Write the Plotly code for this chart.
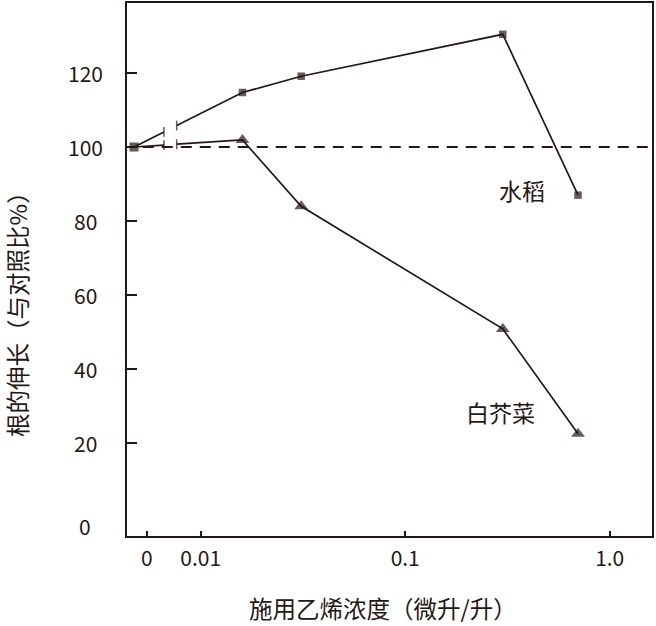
import numpy as np
import plotly.graph_objects as go

# ---- data ----
concentration = [0, 0.016, 0.031, 0.30, 0.70]          # 微升/升
rice = [100, 114.7, 119.1, 130.4, 87.0]                # 水稻
mustard = [100, 101.9, 84.0, 50.9, 22.6]               # 白芥菜
control_level = 100
x_tick_vals = [0, 0.01, 0.1, 1.0]
x_tick_text = ["0", "0.01", "0.1", "1.0"]
y_tick_vals = [0, 20, 40, 60, 80, 100, 120]

# ---- broken-axis helpers (the "0" group sits left of the break on the log axis) ----
ZERO_PLOT = 0.00472
ZERO_TICK = 0.00545
BREAK_L, BREAK_R = 0.00661, 0.00763

INK = "#231815"
FONT = "Noto Sans CJK SC"


def xpos(c, zero):
    return zero if c == 0 else c


def break_y(series):
    lz, l1 = np.log10(ZERO_PLOT), np.log10(concentration[1])
    out = []
    for b in (BREAK_L, BREAK_R):
        t = (np.log10(b) - lz) / (l1 - lz)
        out.append(series[0] + t * (series[1] - series[0]))
    return out


fig = go.Figure()

for name, series, sym, size, zero_marker in [
    ("水稻", rice, "square", 7.5, True),
    ("白芥菜", mustard, "triangle-up", 12, False),
]:
    yl, yr = break_y(series)
    # left part: zero point -> break
    fig.add_trace(go.Scatter(
        x=[xpos(concentration[0], ZERO_PLOT), BREAK_L],
        y=[series[0], yl],
        mode="lines+markers",
        line=dict(color=INK, width=1.7),
        marker=dict(symbol=["square", "line-ns"],
                    size=[7.5 if zero_marker else 0, 7],
                    color=INK, line=dict(color=INK, width=1.5)),
        showlegend=False, hoverinfo="skip", cliponaxis=False,
    ))
    # right part: break -> remaining points
    fig.add_trace(go.Scatter(
        x=[BREAK_R] + [xpos(c, ZERO_PLOT) for c in concentration[1:]],
        y=[yr] + series[1:],
        mode="lines+markers",
        line=dict(color=INK, width=1.7),
        marker=dict(symbol=["line-ns"] + [sym] * (len(series) - 1),
                    size=[7] + [size] * (len(series) - 1),
                    color=INK, line=dict(color=INK, width=[1.5] + [0] * (len(series) - 1))),
        name=name, showlegend=False, cliponaxis=False,
    ))

# control (100 %) dashed reference line
fig.add_shape(type="line", xref="paper", x0=0.03, x1=1, yref="y",
              y0=control_level, y1=control_level,
              line=dict(color=INK, width=1.8, dash="11px,8px"))

annotations = []
# y tick labels centred like the reference
for v in y_tick_vals:
    annotations.append(dict(
        xref="paper", x=0, xshift=-42, yref="y", y=v,
        yshift=-9 if v == 0 else 0,
        text=str(v), showarrow=False, xanchor="center", yanchor="middle",
        font=dict(family=FONT, size=21, color=INK)))

# series labels
annotations.append(dict(xref="x", x=-0.429, yref="y", y=88.3, text="水稻",
                        showarrow=False, font=dict(family=FONT, size=23, color=INK)))
annotations.append(dict(xref="x", x=-0.536, yref="y", y=28.4, text="白芥菜",
                        showarrow=False, font=dict(family=FONT, size=23, color=INK)))
# axis titles
annotations.append(dict(xref="paper", x=0, xshift=-110, yref="paper", y=0.426,
                        text="根的伸长（与对照比%）", textangle=-90, showarrow=False,
                        xanchor="center", yanchor="middle",
                        font=dict(family=FONT, size=23.5, color=INK)))
annotations.append(dict(xref="paper", x=0.4876, yref="paper", y=-0.136,
                        text="施用乙烯浓度（微升/升）", showarrow=False,
                        xanchor="center", yanchor="middle",
                        font=dict(family=FONT, size=23.5, color=INK)))

tickvals_x = [ZERO_TICK if v == 0 else v for v in x_tick_vals]

fig.update_layout(
    width=656, height=626,
    margin=dict(l=127, r=4, t=1, b=90),
    paper_bgcolor="white", plot_bgcolor="white",
    font=dict(family=FONT, color=INK, size=20),
    annotations=annotations,
    xaxis=dict(type="log", range=[-2.3604, 0.2068],
               tickvals=tickvals_x, ticktext=x_tick_text,
               ticks="inside", ticklen=5, tickwidth=1.5, tickcolor=INK,
               showline=True, linecolor=INK, linewidth=2, mirror=True,
               showgrid=False, zeroline=False,
               tickfont=dict(family=FONT, size=21, color=INK),
               ticklabelstandoff=3),
    yaxis=dict(range=[-5.0, 138.86],
               tickvals=[v for v in y_tick_vals if v > 0],
               showticklabels=False,
               ticks="inside", ticklen=10, tickwidth=1.5, tickcolor=INK,
               showline=True, linecolor=INK, linewidth=2, mirror=True,
               showgrid=False, zeroline=False),
)

fig.write_html("out.html",
               config={"displayModeBar": False},
               post_script="document.body.style.margin='0';document.body.style.overflow='hidden';")
